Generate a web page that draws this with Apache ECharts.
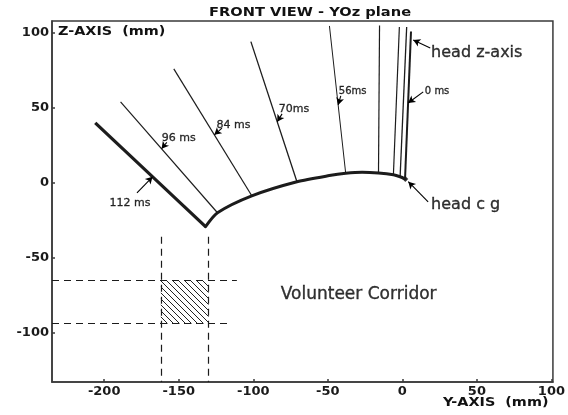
<!DOCTYPE html>
<html>
<head>
<meta charset="utf-8">
<script src="https://cdn.jsdelivr.net/npm/echarts@6.0.0/dist/echarts.min.js"></script>
<style>
  html, body { margin: 0; padding: 0; background: #fff; }
  #chart { width: 568px; height: 415px; }
</style>
</head>
<body>
<div id="chart"></div>
<script>
// Head centre-of-gravity path in the YOz plane (mm)
const cgY = [-132, -124, -101, -70.7, -49, -38, -27, -16, -6, -1.5, 2];
const cgZ = [-29.3, -20, -8.7, 0.7, 4.8, 6.3, 7.0, 6.5, 5.3, 4.0, 2.5];

// Head z-axis at successive instants: base on the c.g. path, tip along the axis (mm)
const axisBaseY = [-132, -124, -101, -70.7, -38, -16, -6, -1.5, 1.8];
const axisBaseZ = [-29.3, -20, -8.7, 0.7, 6.3, 6.5, 5.3, 4.0, 2.5];
const axisTipY  = [-206, -189, -153.3, -101.6, -48.9, -15.3, -2, 2.9, 5.8];
const axisTipZ  = [40, 54, 76, 94.2, 104.7, 105, 104, 104, 101];
const timeLabels = ['112 ms', '96 ms', '84 ms', '70ms', '56ms', null, null, null, '0 ms'];

// Volunteer corridor box (mm)
const corridorY = [-162, -130];
const corridorZ = [-94, -65];

// Tick values
const yTicks = [-200, -150, -100, -50, 0, 50, 100];
const zTicks = [-100, -50, 0, 50, 100];

// ---- styling / layout ----
const INK = '#1c1c1c';
const FRAME = '#3a3a3a';
const axisWidths = [3.2, 1.2, 1.2, 1.3, 1.0, 1.2, 1.2, 1.3, 2.0];
const BOLD = 'DejaVu Sans';
const HAND = 'DejaVu Sans';

// Time-label annotations: text anchor, arrow tail, arrow head on the axis line at height z
const timeNotes = [
  { line: 0, at: [-182.7, -13.3], from: [-178, -6.7], headZ: 4, size: 11 },
  { line: 1, at: [-150, 30], from: [-158, 27], headZ: 22.7, size: 11 },
  { line: 2, at: [-113.3, 38.7], from: [-121, 36.5], headZ: 32, size: 11 },
  { line: 3, at: [-72.7, 49.3], from: [-80.7, 46], headZ: 40.7, size: 11 },
  { line: 4, at: [-33.3, 61.3], from: [-41.3, 58], headZ: 52, size: 10 },
  { line: 8, at: [23.3, 61.3], from: [14, 60.7], headZ: 53.3, size: 10 }
];
const sideNotes = [
  { text: 'head z-axis', at: [19.3, 86.7], from: [18.7, 90], to: [7.3, 95.3], size: 16, left: true },
  { text: 'head c g', at: [19.3, -14.7], from: [17.3, -12.7], to: [4, 0.7], size: 16, left: true },
  { text: 'Volunteer Corridor', at: [-29.3, -74.7], size: 17, left: false }
];
// Guide line extents around the corridor (mm)
const guideLeft = -235;
const guideRight = [-115, -111];
const guideTop = -36;

function pointOnAxis(i, z) {
  const t = (z - axisBaseZ[i]) / (axisTipZ[i] - axisBaseZ[i]);
  return [axisBaseY[i] + t * (axisTipY[i] - axisBaseY[i]), z];
}

function hatchPattern() {
  const c = document.createElement('canvas');
  c.width = 6; c.height = 6;
  const g = c.getContext('2d');
  g.fillStyle = '#fff';
  g.fillRect(0, 0, 6, 6);
  g.strokeStyle = '#222';
  g.lineWidth = 1;
  g.beginPath();
  g.moveTo(-1, -1); g.lineTo(7, 7);
  g.stroke();
  return c;
}

const series = [];

// head z-axis lines
axisBaseY.forEach((y0, i) => {
  series.push({
    type: 'line',
    data: [[y0, axisBaseZ[i]], [axisTipY[i], axisTipZ[i]]],
    symbol: 'none',
    lineStyle: { color: INK, width: axisWidths[i] },
    z: 3,
    silent: true
  });
});

// c.g. trajectory
series.push({
  type: 'line',
  data: cgY.map((y, i) => [y, cgZ[i]]),
  smooth: 0.25,
  symbol: 'none',
  lineStyle: { color: INK, width: 3, cap: 'round', join: 'round' },
  z: 4,
  silent: true
});

// c.g. marker
series.push({
  type: 'scatter',
  data: [[cgY[cgY.length - 1], cgZ[cgZ.length - 1]]],
  symbol: 'diamond',
  symbolSize: 6,
  itemStyle: { color: INK },
  z: 5,
  silent: true
});

// corridor: hatched box and dashed guides
const dashed = { color: INK, width: 1.2, type: [7, 5] };
series.push({
  type: 'line',
  data: [],
  silent: true,
  markArea: {
    silent: true,
    itemStyle: { color: { image: hatchPattern(), repeat: 'repeat' } },
    data: [[{ coord: [corridorY[0], corridorZ[1]] }, { coord: [corridorY[1], corridorZ[0]] }]]
  },
  markLine: {
    silent: true,
    symbol: ['none', 'none'],
    label: { show: false },
    lineStyle: dashed,
    data: [
      [{ coord: [guideLeft, corridorZ[1]] }, { coord: [guideRight[1], corridorZ[1]] }],
      [{ coord: [guideLeft, corridorZ[0]] }, { coord: [guideRight[0], corridorZ[0]] }],
      [{ coord: [corridorY[0], guideTop] }, { coord: [corridorY[0], -133] }],
      [{ coord: [corridorY[1], guideTop] }, { coord: [corridorY[1], -133] }]
    ]
  }
});

// annotation arrows
const arrows = [];
timeNotes.forEach(n => {
  arrows.push([{ coord: n.from }, { coord: pointOnAxis(n.line, n.headZ) }]);
});
sideNotes.forEach(n => {
  if (n.from) arrows.push([{ coord: n.from }, { coord: n.to }]);
});
series.push({
  type: 'line',
  data: [],
  silent: true,
  markLine: {
    silent: true,
    symbol: ['none', 'arrow'],
    symbolSize: [6, 7],
    label: { show: false },
    lineStyle: { color: '#000', width: 1.1, type: 'solid' },
    data: arrows
  }
});

// annotation texts
const noteData = [];
timeNotes.forEach(n => {
  noteData.push({
    name: timeLabels[n.line],
    value: n.at,
    label: { fontSize: n.size }
  });
});
sideNotes.forEach(n => {
  noteData.push({
    name: n.text,
    value: n.at,
    label: n.left
      ? { fontSize: n.size, position: 'right', distance: 0 }
      : { fontSize: n.size }
  });
});
series.push({
  type: 'scatter',
  data: noteData,
  symbolSize: 0,
  silent: true,
  z: 6,
  label: {
    show: true,
    position: 'inside',
    formatter: '{b}',
    color: '#000',
    textBorderColor: '#000',
    textBorderWidth: 0.35,
    fontFamily: HAND,
    fontSize: 11
  }
});

const tickLabelStyle = {
  color: '#1a1a1a',
  fontFamily: BOLD,
  fontWeight: 'bold',
  fontSize: 13
};

const option = {
  animation: false,
  backgroundColor: '#ffffff',
  grid: {
    left: 52, right: 12, top: 21, bottom: 33,
    show: true,
    borderColor: FRAME,
    borderWidth: 1.5,
    backgroundColor: 'transparent'
  },
  xAxis: {
    type: 'value',
    min: -235, max: 101,
    axisLine: { show: true, onZero: false, lineStyle: { color: FRAME, width: 1.5 } },
    axisTick: { show: true, inside: true, length: 3, customValues: yTicks, lineStyle: { color: FRAME, width: 1.5 } },
    axisLabel: { ...tickLabelStyle, margin: 3, customValues: yTicks },
    splitLine: { show: false }
  },
  yAxis: {
    type: 'value',
    min: -133, max: 108,
    axisLine: { show: true, onZero: false, lineStyle: { color: FRAME, width: 1.5 } },
    axisTick: { show: true, inside: true, length: 3, customValues: zTicks, lineStyle: { color: FRAME, width: 1.5 } },
    axisLabel: { ...tickLabelStyle, margin: 3, customValues: zTicks },
    splitLine: { show: false }
  },
  graphic: [
    {
      type: 'text', x: 310, y: 13, scaleX: 1.22, silent: true,
      style: { text: 'FRONT VIEW - YOz plane', fill: '#111', font: 'bold 12px "DejaVu Sans"', align: 'center', verticalAlign: 'middle' }
    },
    {
      type: 'text', x: 58, y: 32, scaleX: 1.2, silent: true, z: 10,
      style: { text: 'Z-AXIS  (mm)', fill: '#111', font: 'bold 12px "DejaVu Sans"', align: 'left', verticalAlign: 'middle' }
    },
    {
      type: 'text', x: 443, y: 403, scaleX: 1.2, silent: true,
      style: { text: 'Y-AXIS  (mm)', fill: '#111', font: 'bold 12px "DejaVu Sans"', align: 'left', verticalAlign: 'middle' }
    }
  ],
  series: series
};

const chart = echarts.init(document.getElementById('chart'), null, { renderer: 'canvas' });
chart.setOption(option);
</script>
</body>
</html>
